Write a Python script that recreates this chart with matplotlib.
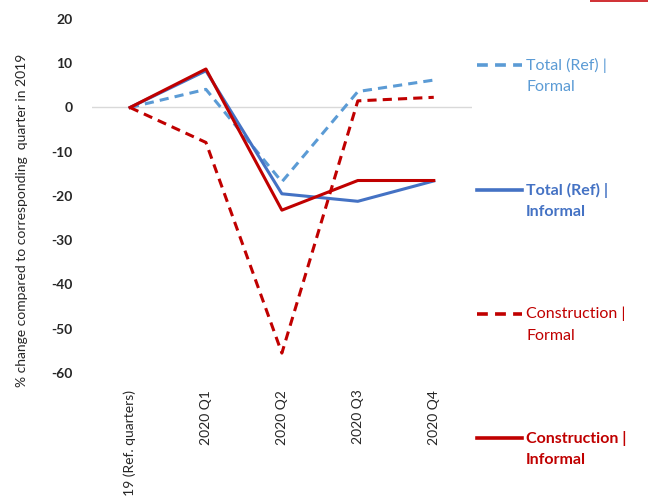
import matplotlib
matplotlib.use("Agg")
import matplotlib.pyplot as plt
from matplotlib.lines import Line2D
from matplotlib.patches import Rectangle

plt.rcParams['font.family'] = ['Lato', 'DejaVu Sans']

categories = ["2019 (Ref. quarters)", "2020 Q1", "2020 Q2", "2020 Q3", "2020 Q4"]
total_formal = [0, 4.1, -16.8, 3.6, 6.2]
total_informal = [0, 8.3, -19.5, -21.2, -16.6]
constr_formal = [0, -7.9, -55.5, 1.5, 2.3]
constr_informal = [0, 8.7, -23.2, -16.5, -16.5]
yticks = [20, 10, 0, -10, -20, -30, -40, -50, -60]

c_lblue = "#5B9BD5"
c_blue = "#4472C4"
c_red = "#C00000"

fig = plt.figure(figsize=(6.48, 4.97), dpi=100)
ax = fig.add_axes([0.142, 0.2495, 0.586, 0.7123])
x = list(range(len(categories)))

ax.axhline(0, color="#D9D9D9", lw=1, zorder=1)
ax.plot(x, total_formal, color=c_lblue, lw=2.2, ls=(0, (3, 2)), zorder=3)
ax.plot(x, total_informal, color=c_blue, lw=2.2, zorder=3)
ax.plot(x, constr_formal, color=c_red, lw=2.2, ls=(0, (3, 2)), zorder=3)
ax.plot(x, constr_informal, color=c_red, lw=2.2, zorder=4)

ax.set_xlim(-0.5, 4.5)
ax.set_ylim(-60, 20)
ax.set_yticks(yticks)
ax.set_yticklabels([str(v) for v in yticks], fontweight="bold", fontsize=10, color="#262626")
ax.set_xticks(x)
ax.set_xticklabels(categories, rotation=90, fontsize=10, color="#262626", va="top")
ax.tick_params(axis="both", length=0)
ax.tick_params(axis="y", pad=14)
ax.tick_params(axis="x", pad=12)
for s in ax.spines.values():
    s.set_visible(False)

W, H = 648, 497
fig.text(22 / W, 1 - 220 / H, "% change compared to corresponding  quarter in 2019",
         fontsize=10, color="#262626", rotation=90, ha="center", va="center")

# Legend drawn manually at right
entries = [
    (65, c_lblue, (0, (3, 2)), "Total (Ref) |", "Formal", "normal"),
    (190, c_blue, "-", "Total (Ref) |", "Informal", "bold"),
    (314, c_red, (0, (3, 2)), "Construction |", "Formal", "normal"),
    (438, c_red, "-", "Construction |", "Informal", "bold"),
]
for ypx, col, ls, t1, t2, fw in entries:
    yf = 1 - ypx / H
    fig.add_artist(Line2D([477 / W, 522 / W], [yf, yf], color=col, lw=2.6, ls=ls,
                          transform=fig.transFigure))
    fig.text(526 / W, yf, t1, color=col, fontsize=11.5, fontweight=fw, va="center", ha="left")
    fig.text(526 / W, 1 - (ypx + 22) / H, t2, color=col, fontsize=11.5, fontweight=fw,
             va="center", ha="left")

fig.add_artist(Rectangle((590 / W, 1 - 2 / H), 58 / W, 2 / H, color="#D13438",
                         transform=fig.transFigure, lw=0))

fig.savefig("out.png", dpi=100)
